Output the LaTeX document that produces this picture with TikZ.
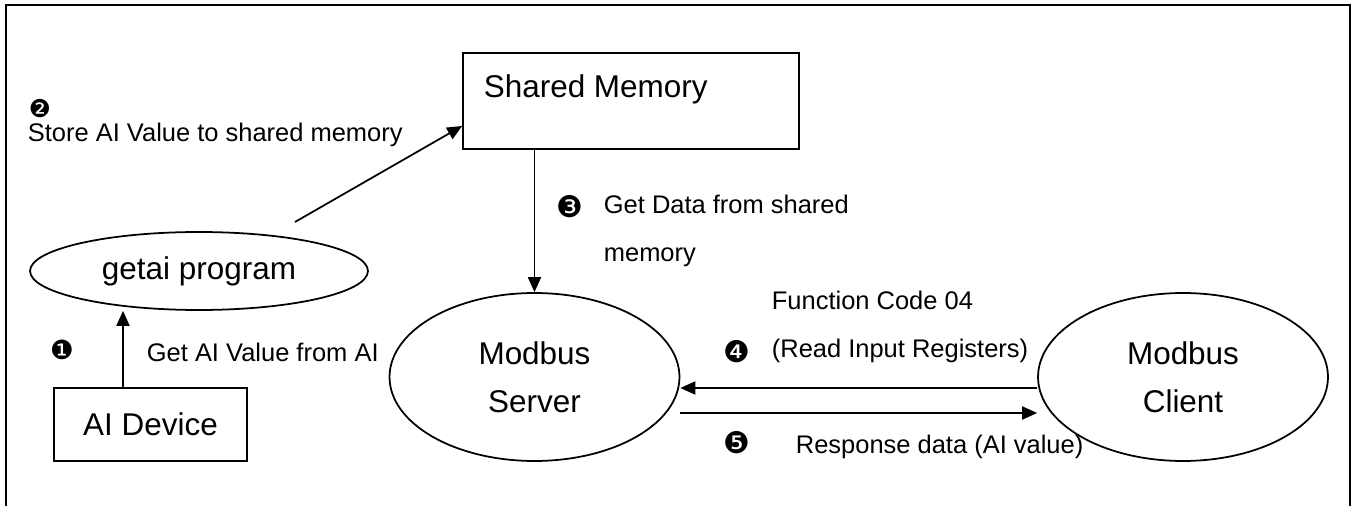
\documentclass[tikz,border=0pt]{standalone}
\usepackage{fontspec}
\setmainfont{Liberation Sans}
\newfontfamily\dingfont{DejaVu Sans}
\usetikzlibrary{shapes.geometric,arrows.meta}

\begin{document}
\begin{tikzpicture}[
	x=0.02cm, y=-0.02cm, line width=1pt,
	big/.style={font=\fontsize{17.9}{27.2}\selectfont},
	box/.style={draw, rectangle, inner sep=0pt, big},
	oval/.style={draw, ellipse, inner sep=0pt, align=center, big},
	lbl/.style={anchor=west, inner sep=0pt, align=left, font=\fontsize{14.5}{27.6}\selectfont},
	num/.style={inner sep=0pt, font=\dingfont\fontsize{#1}{#1}\selectfont},
	num/.default=17,
	arr/.style={-{Triangle[length=8.5pt, width=7.4pt]}}
]
	\useasboundingbox (0,0) rectangle (1355,506);
	\draw[line width=1.2pt] (6,506) -- (6,5) -- (1350,5) -- (1350,506);

	% boxes and ovals
	\node[box, minimum width=6.72cm, minimum height=1.92cm] (shm) at (631,101) {};
	\node[big, anchor=west, inner sep=0pt] (shmtext) at (483,89) {Shared Memory};
	\node[oval, minimum width=6.76cm, minimum height=1.56cm] (getai) at (199,271) {getai program};
	\node[box, minimum width=3.86cm, minimum height=1.46cm] (aidev) at (150.5,424.5) {AI Device};
	\node[oval, minimum width=5.8cm, minimum height=3.36cm] (server) at (534.5,377) {Modbus\\Server};
	\node[oval, minimum width=5.8cm, minimum height=3.36cm] (client) at (1183,377) {Modbus\\Client};

	% steps
	\node[num=15] (n1) at (62,350) {❶};
	\node[lbl] (l1) at (146,352) {Get AI Value from AI};
	\node[num=14] (n2) at (40,109) {❷};
	\node[lbl] (l2) at (27,135) {Store AI Value to shared memory};
	\node[num] (n3) at (570,207) {❸};
	\node[lbl] (l3) at (603,231) {Get Data from shared\\memory};
	\node[lbl] (l4) at (771,327) {Function Code 04\\(Read Input Registers)};
	\node[num] (n4) at (737,352) {❹};
	\node[num] (n5) at (737,443) {❺};
	\node[lbl] (l5) at (795,447) {Response data (AI value)};

	\coordinate (storefrom) at (295,222);
	\draw[arr] ([xshift=-0.55cm]aidev.north) -- ([xshift=-0.55cm]aidev.north |- getai.south);
	\draw[arr] (storefrom) -- ([yshift=-0.5cm]shm.west);
	\draw[arr] (shm.south -| server.north) -- (server.north);
	\draw[arr] ([yshift=-0.22cm]client.west) -- ([yshift=-0.22cm]server.east);
	\draw[arr] ([yshift=-0.72cm]server.east) -- ([yshift=-0.72cm]client.west);
\end{tikzpicture}
\end{document}
